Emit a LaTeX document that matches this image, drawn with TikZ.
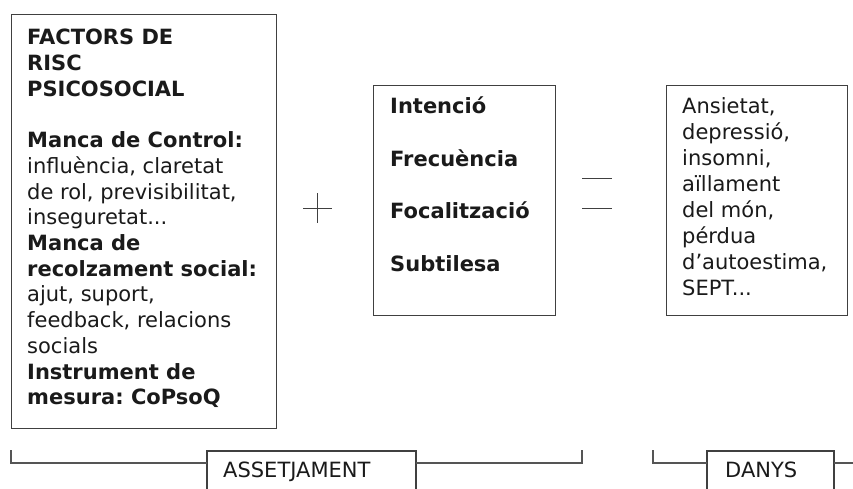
\documentclass[tikz,border=0pt]{standalone}
\usepackage{fontspec}
\setmainfont{DejaVu Sans}
\frenchspacing
\definecolor{linecol}{HTML}{404040}
\definecolor{brackcol}{HTML}{555555}
\definecolor{txtcol}{HTML}{1A1A1A}
\begin{document}
\begin{tikzpicture}[x=1pt,y=-1pt,
  boxnode/.style={draw=linecol, line width=1.2pt, inner sep=0pt, anchor=north west, fill=none},
  txt/.style={inner sep=0pt, anchor=base west, text=txtcol},
  thinline/.style={draw=linecol, line width=1pt},
  bracket/.style={draw=brackcol, line width=1.5pt},
  labelbox/.style={draw=linecol, line width=1.2pt}
]
\fill[white] (0,0) rectangle (853,489);
\useasboundingbox (0,0) rectangle (853,489);

% boxes
\node[boxnode, minimum width=265pt, minimum height=414pt] (factors) at (11,14) {};
\node[boxnode, minimum width=182pt, minimum height=230pt] (criteris) at (373,85) {};
\node[boxnode, minimum width=181pt, minimum height=230pt] (danysbox) at (666,85) {};

% texts
\node[txt] (factorstext) at (27,45) {\parbox[t]{245pt}{\raggedright\fontsize{21}{25.7}\selectfont
\textbf{FACTORS DE}\\
\textbf{RISC}\\
\textbf{PSICOSOCIAL}\\[25.7pt]
\textbf{Manca de Control:}\\
influència, claretat\\
de rol, previsibilitat,\\
inseguretat...\\
\textbf{Manca de}\\
\textbf{recolzament social:}\\
ajut, suport,\\
feedback, relacions\\
socials\\
\textbf{Instrument de}\\
\textbf{mesura: CoPsoQ}}};

\node[txt] (criteristext) at (390,114) {\parbox[t]{160pt}{\raggedright\fontsize{21}{52.4}\selectfont\bfseries
Intenció\\
Frecuència\\
Focalització\\
Subtilesa}};

\node[txt] (danystext) at (682,114) {\parbox[t]{160pt}{\raggedright\fontsize{21}{25.9}\selectfont
Ansietat,\\
depressió,\\
insomni,\\
aïllament\\
del món,\\
pérdua\\
d’autoestima,\\
SEPT...}};

% plus sign
\coordinate (plusL) at (303,208);
\coordinate (plusR) at (332,208);
\coordinate (plusT) at (317,193);
\coordinate (plusB) at (317,223);
\draw[thinline] (plusL) -- (plusR);
\draw[thinline] (plusT) -- (plusB);

% equals sign
\coordinate (eqA1) at (582,179);
\coordinate (eqA2) at (612,179);
\coordinate (eqB1) at (582,208);
\coordinate (eqB2) at (612,208);
\draw[thinline] (eqA1) -- (eqA2);
\draw[thinline] (eqB1) -- (eqB2);

% label boxes (cut by the bottom edge)
\draw[labelbox] (207,495) -- (207,451) -- (416,451) -- (416,495);
\draw[labelbox] (707,495) -- (707,451) -- (834,451) -- (834,495);
\node[txt] (assetjtext) at (223,477) {\fontsize{21}{25}\selectfont ASSETJAMENT};
\node[txt] (danyslabel) at (725,477) {\fontsize{21}{25}\selectfont DANYS};

% brackets
\coordinate (b1top) at (11,450);
\coordinate (b1box) at (207,463);
\coordinate (b1boxR) at (416,463);
\coordinate (b1end) at (582,450);
\coordinate (b2top) at (653,450);
\coordinate (b2box) at (707,463);
\coordinate (b2boxR) at (834,463);
\coordinate (b2end) at (853,463);
\draw[bracket] (b1top) |- (b1box);
\draw[bracket] (b1boxR) -| (b1end);
\draw[bracket] (b2top) |- (b2box);
\draw[bracket] (b2boxR) -- (b2end);
\end{tikzpicture}
\end{document}
